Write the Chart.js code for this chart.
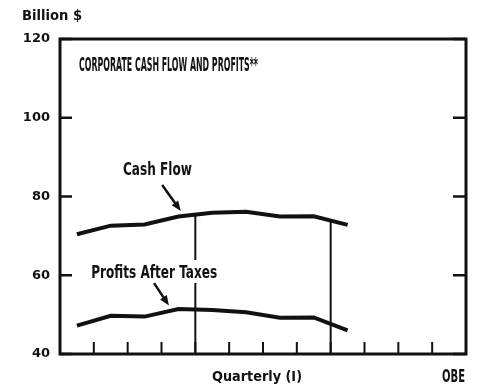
<!DOCTYPE html>
<html lang="en">
<head>
    <meta charset="UTF-8">
    <title>Corporate Cash Flow and Profits</title>
    <script src="https://cdn.jsdelivr.net/npm/chart.js"></script>
    <style>
        body {
            margin: 0;
            padding: 0;
            background-color: #fff;
        }
        canvas {
            display: block;
        }
    </style>
</head>
<body>
    <canvas id="chart" width="482" height="387"></canvas>
    <script>
        // Quarterly figures, billions of dollars
        const slotCount = 12;
        const cashFlow = [70.4, 72.6, 72.9, 74.9, 75.9, 76.1, 74.9, 75.0, 72.8];
        const profitsAfterTaxes = [47.2, 49.7, 49.5, 51.4, 51.2, 50.6, 49.2, 49.3, 46.0];
        const yTicks = [40, 60, 80, 100, 120];
        // slot boundaries marked with a vertical rule
        const markerBoundaries = [4, 8];

        const INK = "#111";
        const NARROW = "'Liberation Sans Narrow', 'DejaVu Sans Condensed', 'Liberation Sans'";

        function toPoints(values) {
            return values.map((v, i) => ({ x: i + 0.5, y: v }));
        }

        // squeeze text horizontally to a given width (condensed lettering)
        function fitText(ctx, text, x, y, font, width, align) {
            ctx.save();
            ctx.font = font;
            const w = ctx.measureText(text).width;
            ctx.translate(x, y);
            ctx.scale(width / w, 1);
            ctx.textAlign = align || "left";
            ctx.textBaseline = "alphabetic";
            ctx.fillStyle = INK;
            ctx.fillText(text, 0, 0);
            ctx.restore();
        }

        function arrow(ctx, x1, y1, x2, y2) {
            const ang = Math.atan2(y2 - y1, x2 - x1);
            const head = 10;
            ctx.save();
            ctx.strokeStyle = INK;
            ctx.fillStyle = INK;
            ctx.lineWidth = 2.5;
            ctx.beginPath();
            ctx.moveTo(x1, y1);
            ctx.lineTo(x2 - Math.cos(ang) * head * 0.8, y2 - Math.sin(ang) * head * 0.8);
            ctx.stroke();
            ctx.beginPath();
            ctx.moveTo(x2, y2);
            ctx.lineTo(x2 - Math.cos(ang) * head + Math.sin(ang) * 4, y2 - Math.sin(ang) * head - Math.cos(ang) * 4);
            ctx.lineTo(x2 - Math.cos(ang) * head - Math.sin(ang) * 4, y2 - Math.sin(ang) * head + Math.cos(ang) * 4);
            ctx.closePath();
            ctx.fill();
            ctx.restore();
        }

        // value of a series at an x position between its points
        function valueAt(values, x) {
            const pts = toPoints(values);
            for (let i = 0; i < pts.length - 1; i++) {
                if (x >= pts[i].x && x <= pts[i + 1].x) {
                    const t = (x - pts[i].x) / (pts[i + 1].x - pts[i].x);
                    return pts[i].y + t * (pts[i + 1].y - pts[i].y);
                }
            }
            return pts[pts.length - 1].y;
        }

        const framePlugin = {
            id: "frame",
            beforeDatasetsDraw(chart) {
                const ctx = chart.ctx;
                const xs = chart.scales.x;
                const ys = chart.scales.y;
                const { left, right, top, bottom } = chart.chartArea;

                ctx.save();
                ctx.strokeStyle = INK;

                // vertical rules from the base up to the cash flow line
                ctx.lineWidth = 2;
                markerBoundaries.forEach((b) => {
                    const px = xs.getPixelForValue(b);
                    ctx.beginPath();
                    ctx.moveTo(px, bottom);
                    ctx.lineTo(px, ys.getPixelForValue(valueAt(cashFlow, b)));
                    ctx.stroke();
                });

                // inside tick marks on the base
                for (let k = 1; k < slotCount; k++) {
                    const px = xs.getPixelForValue(k);
                    ctx.beginPath();
                    ctx.moveTo(px, bottom);
                    ctx.lineTo(px, bottom - 12);
                    ctx.stroke();
                }

                // inside tick marks on both sides
                ctx.lineWidth = 2.5;
                yTicks.forEach((v) => {
                    const py = ys.getPixelForValue(v);
                    ctx.beginPath();
                    ctx.moveTo(left, py);
                    ctx.lineTo(left + 12, py);
                    ctx.moveTo(right, py);
                    ctx.lineTo(right - 13, py);
                    ctx.stroke();
                });

                ctx.lineWidth = 3;
                ctx.strokeRect(left, top, right - left, bottom - top);

                // heading inside the frame
                fitText(ctx, "CORPORATE CASH FLOW AND PROFITS**",
                    xs.getPixelForValue(0.56), ys.getPixelForValue(111.8),
                    "bold 20px " + NARROW, 179);

                // series labels
                fitText(ctx, "Cash Flow",
                    xs.getPixelForValue(1.86), ys.getPixelForValue(85.5),
                    "bold 17px " + NARROW, 69);

                const pl = xs.getPixelForValue(0.92);
                const pb = ys.getPixelForValue(59.3);
                ctx.fillStyle = "#fff";
                ctx.fillRect(pl - 2, pb - 18, 130, 23);
                fitText(ctx, "Profits After Taxes", pl, pb, "bold 17px " + NARROW, 126);

                ctx.restore();
            },
            afterDatasetsDraw(chart) {
                const ctx = chart.ctx;
                const xs = chart.scales.x;
                const ys = chart.scales.y;

                arrow(ctx, xs.getPixelForValue(3.02), ys.getPixelForValue(82.9),
                    xs.getPixelForValue(3.57), ys.getPixelForValue(76.3));
                arrow(ctx, xs.getPixelForValue(2.78), ys.getPixelForValue(58.0),
                    xs.getPixelForValue(3.22), ys.getPixelForValue(52.3));

                // unit label and footer
                fitText(ctx, "Billion $", 22, 20, "bold 14px 'DejaVu Sans'", 60);
                fitText(ctx, "Quarterly (I)", 212, 381, "bold 14px 'DejaVu Sans'", 90);
                fitText(ctx, "OBE", 465, 382, "bold 17px " + NARROW, 23, "right");
            }
        };

        new Chart(document.getElementById("chart"), {
            type: "line",
            data: {
                datasets: [
                    {
                        label: "Cash Flow",
                        data: toPoints(cashFlow),
                        borderColor: INK,
                        borderWidth: 4,
                        pointRadius: 0,
                        tension: 0
                    },
                    {
                        label: "Profits After Taxes",
                        data: toPoints(profitsAfterTaxes),
                        borderColor: INK,
                        borderWidth: 4,
                        pointRadius: 0,
                        tension: 0
                    }
                ]
            },
            options: {
                responsive: false,
                animation: false,
                devicePixelRatio: 1,
                layout: {
                    padding: { top: 39, right: 16, bottom: 33, left: 0 }
                },
                plugins: {
                    legend: { display: false },
                    tooltip: { enabled: false }
                },
                scales: {
                    x: {
                        type: "linear",
                        min: 0,
                        max: slotCount,
                        display: false
                    },
                    y: {
                        min: 40,
                        max: 120,
                        afterFit(scale) {
                            scale.width = 60;
                        },
                        afterBuildTicks(scale) {
                            scale.ticks = yTicks.map((v) => ({ value: v }));
                        },
                        grid: { display: false, drawTicks: false },
                        border: { display: false },
                        ticks: {
                            padding: 10,
                            color: INK,
                            font: { family: "'DejaVu Sans'", size: 13, weight: "bold" }
                        }
                    }
                }
            },
            plugins: [framePlugin]
        });
    </script>
</body>
</html>
